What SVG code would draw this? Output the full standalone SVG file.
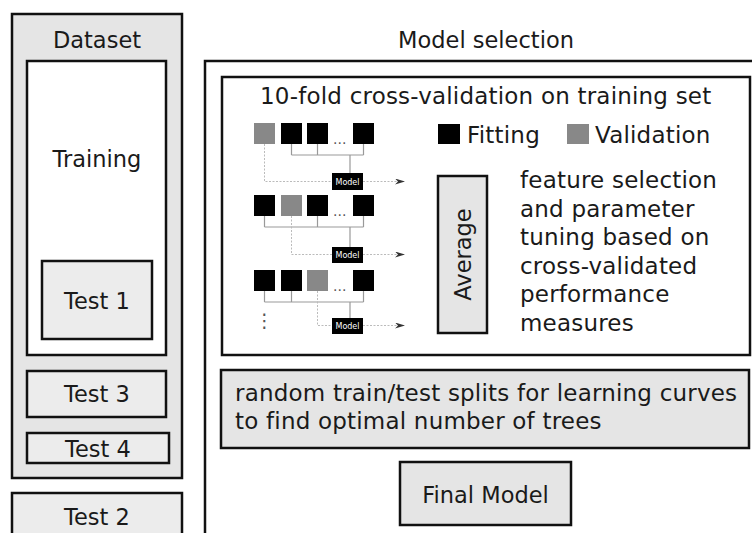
<svg xmlns="http://www.w3.org/2000/svg" width="752" height="533" viewBox="0 0 752 533">
<defs>
<style>
text{font-family:"DejaVu Sans","Liberation Sans",sans-serif;fill:#1a1a1a}
.t{font-size:22.5px}
.tl{font-size:23px;letter-spacing:0.2px}
.c{text-anchor:middle}
.box{stroke:#111;stroke-width:2.5}
.g{fill:#e5e5e5}
.lg{fill:#ececec}
.w{fill:#fff}
.blk{fill:#000}
.gry{fill:#888}
.ln{stroke:#999;stroke-width:1.2;fill:none}
.ds{stroke:#bbb;stroke-width:1;stroke-dasharray:2 1.5;fill:none}
.mt{font-size:8px;fill:#fff;text-anchor:middle}
.dots{font-size:14px;fill:#555}
</style>
<marker id="arr" viewBox="0 0 10 6" refX="10" refY="3" markerWidth="10" markerHeight="6" markerUnits="userSpaceOnUse" orient="auto">
<path d="M0,0 L10,3 L0,6 L3,3 z" fill="#333"/>
</marker>
</defs>
<rect width="752" height="533" fill="#fff"/>

<g id="dataset">
<rect class="box g" x="12" y="14" width="170" height="464"/>
<text class="t c" x="97" y="48">Dataset</text>
</g>
<g id="training">
<rect class="box w" x="27" y="61" width="139" height="294"/>
<text class="t c" x="97" y="167">Training</text>
</g>
<g id="test1">
<rect class="box lg" x="42" y="261" width="110" height="78"/>
<text class="t c" x="97" y="309">Test 1</text>
</g>
<g id="test3">
<rect class="box lg" x="27" y="371" width="139" height="46"/>
<text class="t c" x="97" y="402">Test 3</text>
</g>
<g id="test4">
<rect class="box lg" x="27" y="433" width="142" height="30"/>
<text class="t c" x="98" y="457">Test 4</text>
</g>
<g id="test2">
<rect class="box lg" x="12" y="493" width="170" height="50"/>
<text class="t c" x="97" y="525">Test 2</text>
</g>

<g id="model-selection">
<text class="t c" x="486" y="48">Model selection</text>
<rect class="box w" x="205" y="61" width="560" height="490"/>
</g>

<g id="cv">
<rect class="box w" x="222" y="77" width="528" height="278"/>
<text class="tl" x="260" y="104">10-fold cross-validation on training set</text>
</g>

<g id="legend">
<rect class="blk" x="438" y="124" width="22" height="20"/>
<text class="tl" x="467" y="143">Fitting</text>
<rect class="gry" x="567" y="124" width="22" height="20"/>
<text class="tl" x="595" y="143">Validation</text>
</g>

<g id="folds">
<rect class="gry" x="254" y="123" width="21" height="21"/>
<rect class="blk" x="281" y="123" width="21" height="21"/>
<rect class="blk" x="307" y="123" width="21" height="21"/>
<text class="dots" x="333" y="144">...</text>
<rect class="blk" x="353" y="123" width="21" height="21"/>

<rect class="blk" x="254" y="195" width="21" height="21"/>
<rect class="gry" x="281" y="195" width="21" height="21"/>
<rect class="blk" x="307" y="195" width="21" height="21"/>
<text class="dots" x="333" y="216">...</text>
<rect class="blk" x="353" y="195" width="21" height="21"/>

<rect class="blk" x="254" y="270" width="21" height="21"/>
<rect class="blk" x="281" y="270" width="21" height="21"/>
<rect class="gry" x="307" y="270" width="21" height="21"/>
<text class="dots" x="333" y="291">...</text>
<rect class="blk" x="353" y="270" width="21" height="21"/>

<text class="dots" x="264.5" y="327" text-anchor="middle" style="font-size:19px">⋮</text>
</g>

<g id="connectors">
<path class="ln" d="M291.5,144V155M317.5,144V155M363.5,144V155M291.5,155H363.5M350,155V173"/>
<path class="ds" d="M264.5,144V181.5H332"/>
<path class="ds" d="M363,181.5H405" marker-end="url(#arr)"/>

<path class="ln" d="M264.5,216V227M317.5,216V227M363.5,216V227M264.5,227H363.5M350,227V247"/>
<path class="ds" d="M291.5,216V254.5H332"/>
<path class="ds" d="M363,254.5H405" marker-end="url(#arr)"/>

<path class="ln" d="M264.5,291V302M291.5,291V302M363.5,291V302M264.5,302H363.5M350,302V318"/>
<path class="ds" d="M317.5,291V325.5H332"/>
<path class="ds" d="M363,325.5H405" marker-end="url(#arr)"/>
</g>

<g id="model1">
<rect class="blk" x="332" y="173" width="31" height="17"/>
<text class="mt" x="347.5" y="184.5">Model</text>
</g>
<g id="model2">
<rect class="blk" x="332" y="247" width="31" height="16"/>
<text class="mt" x="347.5" y="258">Model</text>
</g>
<g id="model3">
<rect class="blk" x="332" y="318" width="31" height="16"/>
<text class="mt" x="347.5" y="329">Model</text>
</g>

<g id="average">
<rect class="box g" x="438" y="176" width="49" height="157"/>
<text class="t c" transform="translate(470.5,254.5) rotate(-90)">Average</text>
</g>

<g id="tuning">
<text class="tl" x="520" y="188">feature selection</text>
<text class="tl" x="520" y="217">and parameter</text>
<text class="tl" x="520" y="245">tuning based on</text>
<text class="tl" x="520" y="274">cross-validated</text>
<text class="tl" x="520" y="302">performance</text>
<text class="tl" x="520" y="331">measures</text>
</g>

<g id="random-splits">
<rect class="box g" x="221" y="370" width="528" height="78"/>
<text class="tl" x="235" y="401">random train/test splits for learning curves</text>
<text class="tl" x="235" y="429">to find optimal number of trees</text>
</g>

<g id="final-model">
<rect class="box g" x="400" y="462" width="171" height="63"/>
<text class="t c" x="485.5" y="503">Final Model</text>
</g>
</svg>
